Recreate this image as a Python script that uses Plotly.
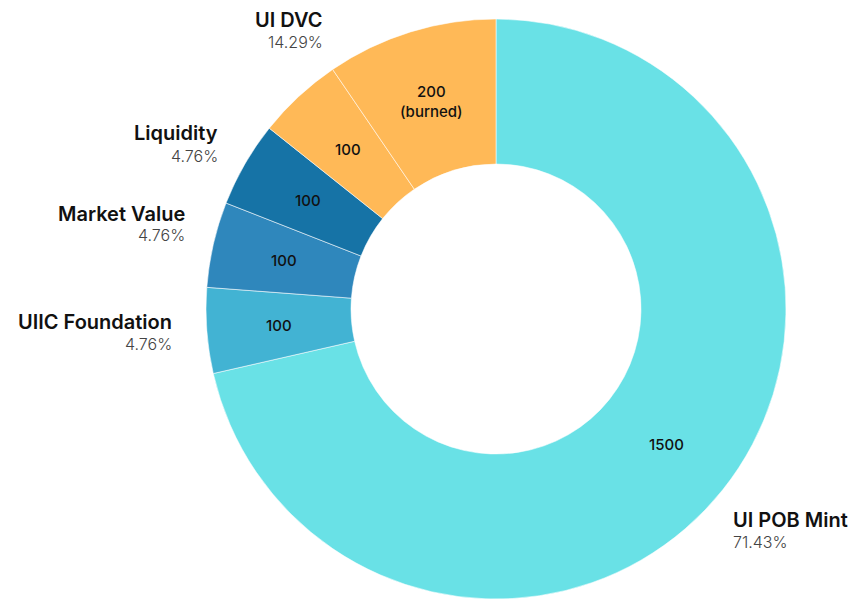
import math
import plotly.graph_objects as go

# ---- data ----
slice_labels = ["UI POB Mint", "UIIC Foundation", "Market Value", "Liquidity", "UI DVC", "UI DVC (burned)"]
slice_values = [1500, 100, 100, 100, 100, 200]
slice_text = ["1500", "100", "100", "100", "100", "200<br>(burned)"]
slice_colors = ["#69E1E6", "#42B3D3", "#2F87BC", "#1673A6", "#FFB957", "#FFB957"]

group_names = ["UI DVC", "Liquidity", "Market Value", "UIIC Foundation", "UI POB Mint"]
group_pcts = ["14.29%", "4.76%", "4.76%", "4.76%", "71.43%"]

# label placement (pixels in 857x601 canvas): anchor x, name y, pct y, side
label_pos = [
    (325, 20, 42, "right"),
    (220, 133, 156, "right"),
    (187, 214, 235, "right"),
    (174, 322, 344, "right"),
    (731, 520, 542, "left"),
]

W, H = 857, 601
FONT = "Inter, Lato, sans-serif"
HOLE = 0.5
DOM_X = [206, 786]      # pixel extent of pie domain
DOM_Y = [19, 599]       # pixel extent (from top)

fig = go.Figure(go.Pie(
    labels=slice_labels,
    values=slice_values,
    textinfo="none",
    marker=dict(colors=slice_colors, line=dict(color="rgba(255,255,255,0.55)", width=1)),
    hole=HOLE,
    sort=False,
    direction="clockwise",
    rotation=0,
    showlegend=False,
    domain=dict(x=[DOM_X[0] / W, DOM_X[1] / W], y=[1 - DOM_Y[1] / H, 1 - DOM_Y[0] / H]),
    hoverinfo="label+value+percent",
))

# inside value labels at mid-angle / mid-radius of each slice (derived from data)
cx = (DOM_X[0] + DOM_X[1]) / 2
cy = (DOM_Y[0] + DOM_Y[1]) / 2
R = (DOM_X[1] - DOM_X[0]) / 2
r_mid = R * (1 + HOLE) / 2
total = sum(slice_values)
anns = []
cum = 0
for v, t in zip(slice_values, slice_text):
    theta = 2 * math.pi * (cum + v / 2) / total
    cum += v
    px = cx + r_mid * math.sin(theta)
    py = cy - r_mid * math.cos(theta)
    anns.append(dict(x=px / W, y=1 - py / H, xref="paper", yref="paper",
                     text=t, showarrow=False, xanchor="center", yanchor="middle",
                     font=dict(family=FONT, size=15, color="#111111", weight=500)))

for name, pct, (x, yn, yp, side) in zip(group_names, group_pcts, label_pos):
    anns.append(dict(x=x / W, y=1 - yn / H, xref="paper", yref="paper",
                     text=name, showarrow=False, xanchor=side, yanchor="middle",
                     font=dict(family=FONT, size=20, color="#111111", weight=600)))
    anns.append(dict(x=x / W, y=1 - yp / H, xref="paper", yref="paper",
                     text=pct, showarrow=False, xanchor=side, yanchor="middle",
                     font=dict(family=FONT, size=16, color="#444444", weight=300)))

fig.update_layout(
    width=W, height=H,
    margin=dict(l=0, r=0, t=0, b=0),
    paper_bgcolor="white", plot_bgcolor="white",
    annotations=anns,
)

fig.write_html("out.html", config={"displayModeBar": False},
               post_script="document.body.style.margin='0';")
